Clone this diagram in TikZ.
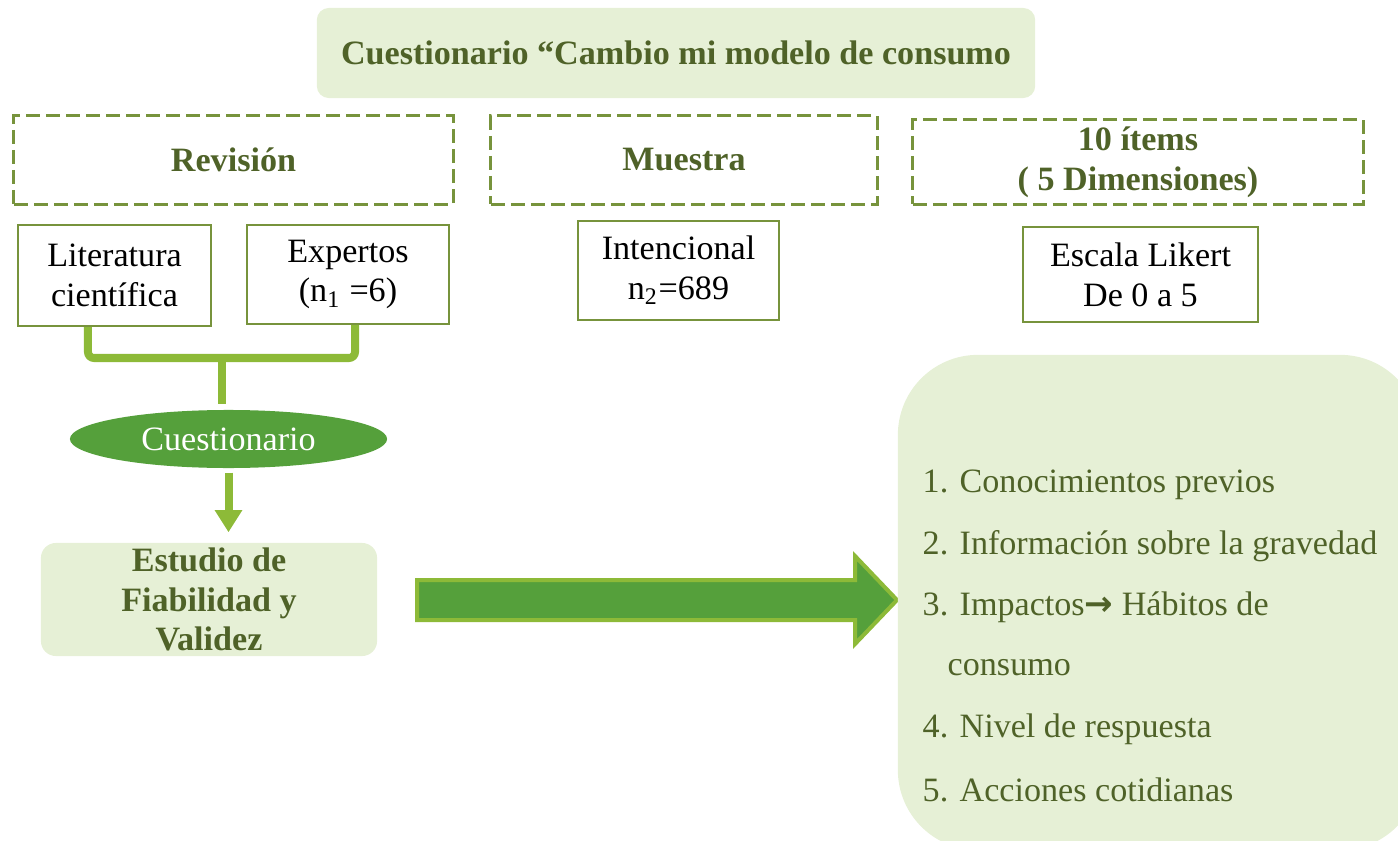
\documentclass[tikz,border=0pt]{standalone}
\usepackage{fontspec}
\setmainfont{Liberation Serif}
\newfontfamily\flechas{DejaVu Sans}
\usetikzlibrary{shapes.geometric,arrows.meta}
\definecolor{oscuro}{HTML}{4F6228}
\definecolor{oliva}{HTML}{77933C}
\definecolor{claro}{HTML}{E6F0D6}
\definecolor{verdeclaro}{HTML}{8DBA38}
\definecolor{verdemedio}{HTML}{55A03B}
\begin{document}
\fontsize{9.7}{11.3}\selectfont
\begin{tikzpicture}[x=0.01cm,y=-0.01cm,
  fondo/.style={fill=claro,inner sep=0pt,align=center},
  cabecera/.style={draw=oliva,line width=0.03cm,dash pattern=on 0.14cm off 0.06cm,inner sep=0pt,font=\bfseries,text=oscuro,align=center},
  caja/.style={draw=oliva,line width=0.02cm,inner sep=0pt,align=center},
  conector/.style={verdeclaro,line width=0.08cm,rounded corners=0.06cm},
  item/.style={anchor=west,text=oscuro,inner sep=0pt}]
  \useasboundingbox (0,0) rectangle (1398,840);
  % titulo y cabeceras
  \node[fondo,rounded corners=0.12cm,minimum width=7.18cm,minimum height=0.9cm,font=\bfseries,text=oscuro] (titulo) at (676,53) {Cuestionario “Cambio mi modelo de consumo};
  \node[cabecera,minimum width=4.39cm,minimum height=0.88cm] (rev) at (233.5,160) {Revisión};
  \node[cabecera,minimum width=3.86cm,minimum height=0.88cm] (mue) at (684,160) {Muestra};
  \node[cabecera,minimum width=4.5cm,minimum height=0.84cm] (items) at (1138,162) {10 ítems\\( 5 Dimensiones)};
  % cajas
  \node[caja,minimum width=1.92cm,minimum height=1.01cm] (lit) at (114.5,275.5) {Literatura\\científica};
  \node[caja,minimum width=2.02cm,minimum height=0.99cm] (exp) at (348,274.5) {Expertos\\(n\textsubscript{1} =6)};
  \node[caja,minimum width=2.01cm,minimum height=0.99cm] (int) at (678.5,270.5) {Intencional\\n\textsubscript{2}=689};
  \node[caja,minimum width=2.34cm,minimum height=0.95cm] (esc) at (1140.5,274.5) {Escala Likert\\De 0 a 5};
  % cuestionario y estudio
  \node[ellipse,fill=verdemedio,text=white,inner sep=0pt,minimum width=3.17cm,minimum height=0.58cm] (cues) at (228.5,439) {Cuestionario};
  \node[fondo,rounded corners=0.15cm,minimum width=3.36cm,minimum height=1.13cm,font=\bfseries,text=oscuro] (est) at (209,599.5) {Estudio de\\Fiabilidad y\\Validez};
  \coordinate (jn) at (222,358);
  \draw[conector] ([xshift=-0.265cm]lit.south) |- (jn) -| ([xshift=0.07cm]exp.south);
  \draw[conector,shorten >=0.05cm] (jn) -- (jn |- cues.north);
  \draw[conector,-{Triangle[width=0.26cm,length=0.22cm]},shorten <=0.04cm,shorten >=0.1cm] (cues.south) -- (cues.south |- est.north);
  % flecha grande
  \draw[fill=verdemedio,draw=verdeclaro,line width=0.04cm,miter limit=10] (417,580) -- (855,580) -- (855,556) -- (897,600) -- (855,644) -- (855,620) -- (417,620) -- cycle;
  % dimensiones
  \node[fondo,rounded corners=0.8cm,minimum width=5.22cm,minimum height=4.95cm] (dim) at (1159,602.5) {};
  \node[item] (d1) at (922,485) {1. Conocimientos previos};
  \node[item] (d2) at (922,546) {2. Información sobre la gravedad};
  \node[item] (d3) at (922,607) {3. Impactos{\flechas\bfseries →} Hábitos de};
  \node[item] (d3b) at (947,668) {consumo};
  \node[item] (d4) at (922,729) {4. Nivel de respuesta};
  \node[item] (d5) at (922,790) {5. Acciones cotidianas};
\end{tikzpicture}
\end{document}
